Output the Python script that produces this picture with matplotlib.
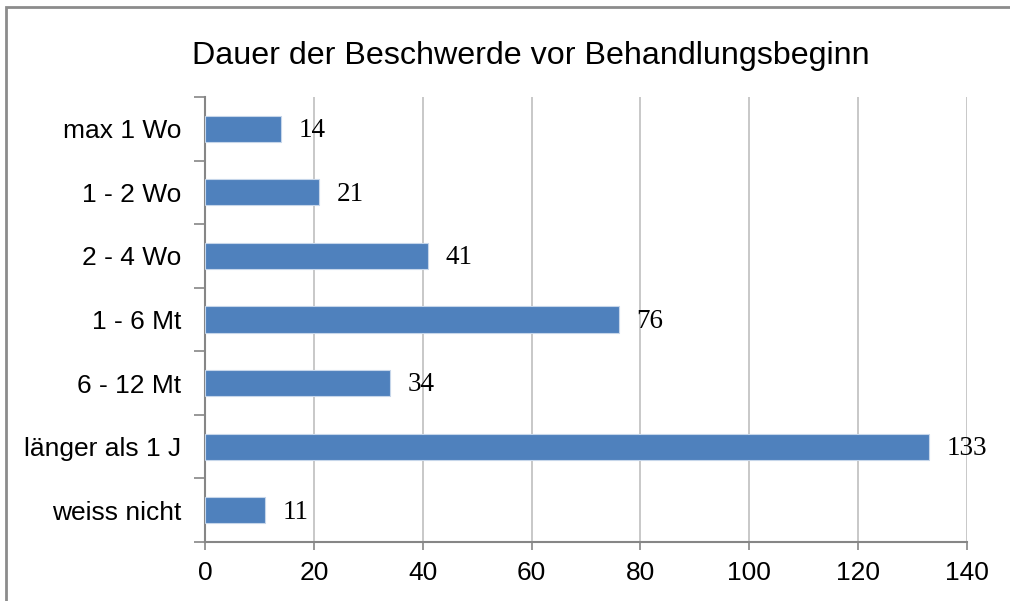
import matplotlib
matplotlib.use("Agg")
import matplotlib.pyplot as plt
from matplotlib.patches import Rectangle
import numpy as np

categories = ["max 1 Wo", "1 - 2 Wo", "2 - 4 Wo", "1 - 6 Mt", "6 - 12 Mt", "länger als 1 J", "weiss nicht"]
values = [14, 21, 41, 76, 34, 133, 11]
xticks = [0, 20, 40, 60, 80, 100, 120, 140]
title = "Dauer der Beschwerde vor Behandlungsbeginn"

plt.rcParams['font.family'] = ['Liberation Sans', 'DejaVu Sans']

fig = plt.figure(figsize=(10.1, 6.01), dpi=100)
ax = fig.add_axes([205/1010, 1 - 542/601, (967-205)/1010, (542-97)/601])

y = np.arange(len(categories))
ax.barh(y, values, height=0.41, color="#4F81BD", edgecolor="#C6D6EA", linewidth=0.8, zorder=3)
for yi, v in zip(y, values):
    ax.text(v + 3.2, yi + 0.03, str(v), va="center", ha="left", fontsize=19.5,
            family=["Liberation Serif", "DejaVu Serif"], color="black", zorder=4)

ax.set_xlim(0, 140)
ax.set_ylim(len(categories) - 0.5, -0.5)
ax.set_xticks(xticks)
ax.set_xticklabels([str(t) for t in xticks], fontsize=19)
ax.set_yticks(y)
ax.set_yticklabels(categories, fontsize=19)
ax.tick_params(axis="y", length=0, pad=17)
ax.tick_params(axis="x", length=6, width=1.2, color="#868686", pad=8)
# minor ticks at category boundaries on the y axis
ax.set_yticks(np.arange(-0.5, len(categories) + 0.5, 1), minor=True)
ax.tick_params(axis="y", which="minor", length=8, width=1.2, color="#868686")
ax.grid(axis="x", color="#BFBFBF", linewidth=1.2, zorder=0)
for s in ["top", "right"]:
    ax.spines[s].set_visible(False)
for s in ["left", "bottom"]:
    ax.spines[s].set_color("#868686")
    ax.spines[s].set_linewidth(1.5)

fig.text(531/1010, 1 - 64/601, title, ha="center", va="baseline", fontsize=23.2)

# outer chart border (left and top visible)
fig.patches.append(Rectangle((6/1010, -0.05), 1.1, 1.05 - 7/601, transform=fig.transFigure,
                             fill=False, edgecolor="#8C8C8C", linewidth=2, figure=fig))

fig.savefig("out.png", dpi=100)
